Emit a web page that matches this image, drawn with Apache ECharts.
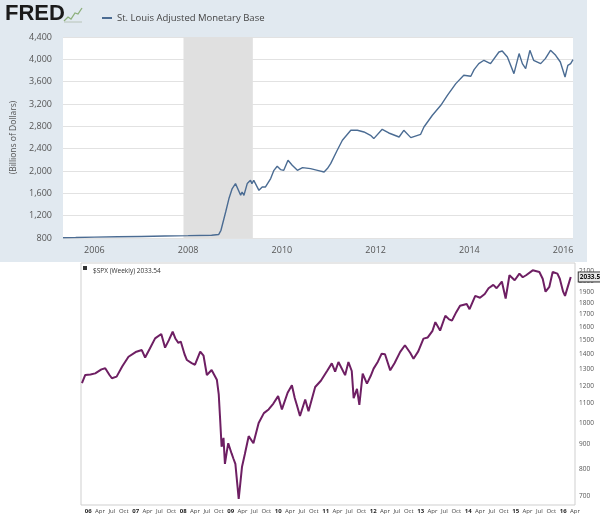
<!DOCTYPE html>
<html><head><meta charset="utf-8">
<script src="https://cdn.jsdelivr.net/npm/echarts@6/dist/echarts.min.js"></script>
<style>html,body{margin:0;padding:0;background:#fff}#c{width:600px;height:521px}</style>
</head><body><div id="c"></div>
<script>
// ---- FRED: St. Louis Adjusted Monetary Base (billions of dollars) ----
const fredName = 'St. Louis Adjusted Monetary Base';
const fredT = [2005.33,2005.6,2006.0,2006.5,2007.0,2007.5,2008.0,2008.5,2008.65,2008.7,2008.8,2008.87,2008.94,2009.01,2009.05,2009.12,2009.15,2009.19,2009.26,2009.33,2009.36,2009.40,2009.51,2009.58,2009.65,2009.76,2009.83,2009.90,2009.97,2010.04,2010.13,2010.22,2010.33,2010.44,2010.61,2010.76,2010.90,2010.97,2011.04,2011.18,2011.29,2011.47,2011.61,2011.75,2011.89,2011.96,2012.14,2012.28,2012.50,2012.60,2012.75,2012.96,2013.03,2013.21,2013.39,2013.53,2013.71,2013.88,2014.03,2014.10,2014.20,2014.31,2014.45,2014.63,2014.70,2014.81,2014.95,2015.06,2015.13,2015.20,2015.29,2015.37,2015.52,2015.62,2015.73,2015.84,2015.94,2016.04,2016.10,2016.16,2016.21];
const fredV = [805,808,815,822,828,835,842,850,862,938,1266,1506,1685,1774,1744,1565,1624,1565,1774,1833,1774,1833,1654,1714,1714,1864,2012,2084,2025,2012,2192,2102,2012,2061,2043,2012,1982,2043,2132,2371,2550,2729,2729,2699,2639,2580,2747,2681,2609,2729,2598,2657,2788,2998,3177,3356,3565,3714,3696,3816,3923,3983,3923,4131,4149,4042,3744,4103,3923,3834,4162,3983,3923,4013,4162,4072,3952,3683,3893,3923,3995];
const fredYears = [2006,2008,2010,2012,2014,2016];
const recession = [[2007.9,2009.38]];

// ---- $SPX weekly ----
const spxLast = 2033.54;
const spxT = [2005.87,2005.94,2006.05,2006.15,2006.28,2006.36,2006.45,2006.5,2006.6,2006.72,2006.85,2007.0,2007.13,2007.2,2007.3,2007.41,2007.54,2007.62,2007.7,2007.78,2007.84,2007.9,2007.95,2008.03,2008.08,2008.18,2008.25,2008.36,2008.43,2008.5,2008.6,2008.71,2008.75,2008.78,2008.81,2008.85,2008.88,2008.92,2008.95,2009.02,2009.06,2009.1,2009.17,2009.24,2009.3,2009.38,2009.48,2009.59,2009.7,2009.8,2009.9,2010.0,2010.08,2010.2,2010.29,2010.35,2010.4,2010.46,2010.57,2010.64,2010.78,2010.9,2011.03,2011.13,2011.2,2011.27,2011.41,2011.48,2011.55,2011.59,2011.66,2011.71,2011.78,2011.87,2011.95,2012.01,2012.1,2012.18,2012.25,2012.36,2012.45,2012.57,2012.67,2012.78,2012.85,2012.95,2013.06,2013.15,2013.25,2013.31,2013.41,2013.52,2013.6,2013.66,2013.75,2013.83,2013.97,2014.03,2014.15,2014.25,2014.35,2014.43,2014.53,2014.6,2014.71,2014.79,2014.87,2014.98,2015.08,2015.15,2015.22,2015.36,2015.5,2015.57,2015.63,2015.71,2015.78,2015.88,2015.93,2016.0,2016.04,2016.11,2016.16];
const spxV = [1215,1265,1268,1275,1300,1307,1265,1245,1255,1320,1383,1415,1429,1378,1440,1513,1546,1446,1500,1563,1510,1480,1490,1400,1361,1341,1330,1418,1390,1265,1296,1236,1150,1015,891,930,819,870,906,862,840,819,690,808,860,938,906,1000,1050,1069,1100,1141,1069,1160,1203,1130,1087,1035,1122,1060,1193,1230,1290,1339,1286,1348,1264,1348,1290,1130,1182,1093,1274,1213,1260,1305,1350,1404,1400,1294,1340,1416,1463,1410,1370,1420,1511,1520,1570,1638,1572,1690,1660,1650,1720,1775,1790,1745,1862,1845,1880,1933,1965,1933,1997,1838,2060,2010,2076,2040,2060,2110,2093,2025,1901,1947,2093,2076,2025,1901,1862,1965,2043];
const spxTickLabels = ['06','Apr','Jul','Oct','07','Apr','Jul','Oct','08','Apr','Jul','Oct','09','Apr','Jul','Oct','10','Apr','Jul','Oct','11','Apr','Jul','Oct','12','Apr','Jul','Oct','13','Apr','Jul','Oct','14','Apr','Jul','Oct','15','Apr','Jul','Oct','16','Apr'];
const spxTickVals = spxTickLabels.map((s, i) => 2006 + i * 0.25);
const spxYTicks = [700,800,900,1000,1100,1200,1300,1400,1500,1600,1700,1800,1900,2000,2100];

const chart = echarts.init(document.getElementById('c'));
const F = '"Open Sans", "Noto Sans", sans-serif';
chart.setOption({
  animation: false,
  backgroundColor: '#fff',
  textStyle: { fontFamily: F },
  graphic: [
    { type: 'rect', z: -5, silent: true, shape: { x: 0, y: 0, width: 587, height: 262 }, style: { fill: '#e1e9f0' } },
    { type: 'text', left: 5, top: 3, silent: true, style: { text: 'FRED', font: '900 22px "Liberation Sans", Arial, sans-serif', fill: '#1b1b1b' } },
    { type: 'polyline', silent: true, shape: { points: [[64,21],[68,17],[71,19],[75,13],[78,14],[82,8]] }, style: { stroke: '#8db07c', lineWidth: 1.3, fill: null } },
    { type: 'polyline', silent: true, shape: { points: [[64,22],[82,22]] }, style: { stroke: '#b8c4b8', lineWidth: 1, fill: null } },
    { type: 'rect', silent: true, shape: { x: 83, y: 266, width: 4, height: 4 }, style: { fill: '#333' } }
  ],
  title: {
    text: '$SPX (Weekly) ' + spxLast, left: 88, top: 263,
    textStyle: { fontSize: 6.5, fontWeight: 'normal', color: '#333', fontFamily: F }
  },
  legend: {
    data: [fredName], left: 97, top: 8, icon: 'rect', itemWidth: 10, itemHeight: 2,
    textStyle: { fontSize: 9.5, color: '#444', fontFamily: F }
  },
  grid: [
    { left: 63, top: 37, width: 510, height: 201, show: true, backgroundColor: '#fff', borderWidth: 0 },
    { left: 81, top: 263, width: 494, height: 242, show: true, backgroundColor: 'transparent', borderColor: '#cfcfcf', borderWidth: 1 }
  ],
  xAxis: [
    { type: 'value', gridIndex: 0, min: 2005.33, max: 2016.21,
      axisLine: { show: false }, axisTick: { show: false }, splitLine: { show: false },
      axisLabel: { customValues: fredYears, fontSize: 9, color: '#555', margin: 8, formatter: v => String(v) } },
    { type: 'value', gridIndex: 1, min: 2005.85, max: 2016.25,
      axisLine: { show: false }, axisTick: { show: false }, splitLine: { show: false },
      axisLabel: { customValues: spxTickVals, fontSize: 6, color: '#444', margin: 3, hideOverlap: false,
        formatter: v => { const i = spxTickVals.findIndex(t => Math.abs(t - v) < 1e-6); const s = spxTickLabels[i] || ''; return (i % 4 === 0) ? '{b|' + s + '}' : s; },
        rich: { b: { fontSize: 6, fontWeight: 'bold', color: '#222' } } } }
  ],
  yAxis: [
    { type: 'value', gridIndex: 0, min: 800, max: 4400, interval: 400,
      axisLine: { show: false }, axisTick: { show: false },
      splitLine: { lineStyle: { color: '#e2e2e2', width: 1 } },
      axisLabel: { fontSize: 9, color: '#555', margin: 11, formatter: v => v.toLocaleString('en-US') },
      name: '(Billions of Dollars)', nameLocation: 'middle', nameGap: 44,
      nameTextStyle: { fontSize: 8.5, color: '#555' } },
    { type: 'log', logBase: 10, gridIndex: 1, position: 'right', min: 670, max: 2187,
      axisLine: { show: false }, axisTick: { show: false }, splitLine: { show: false },
      axisLabel: { customValues: spxYTicks, fontSize: 6.5, color: '#555', margin: 4, formatter: v => String(Math.round(v)) } }
  ],
  series: [
    { name: fredName, type: 'line', xAxisIndex: 0, yAxisIndex: 0, showSymbol: false, symbol: 'none',
      data: fredT.map((t, i) => [t, fredV[i]]),
      lineStyle: { color: '#4b6c93', width: 1.4 }, itemStyle: { color: '#4b6c93' },
      markArea: { silent: true, itemStyle: { color: '#e0e0e0' },
        data: recession.map(r => [{ xAxis: r[0] }, { xAxis: r[1] }]) } },
    { name: '$SPX', type: 'line', xAxisIndex: 1, yAxisIndex: 1, showSymbol: false, symbol: 'none',
      data: spxT.map((t, i) => [t, spxV[i]]),
      lineStyle: { color: '#6e1f63', width: 2 }, itemStyle: { color: '#6e1f63' },
      endLabel: { show: true, formatter: () => spxLast.toFixed(2), distance: 8, fontSize: 6.5, fontWeight: 'bold',
        color: '#111', backgroundColor: '#e6e6e6', borderColor: '#333', borderWidth: 1, padding: [1, 1] } }
  ]
});
</script></body></html>
